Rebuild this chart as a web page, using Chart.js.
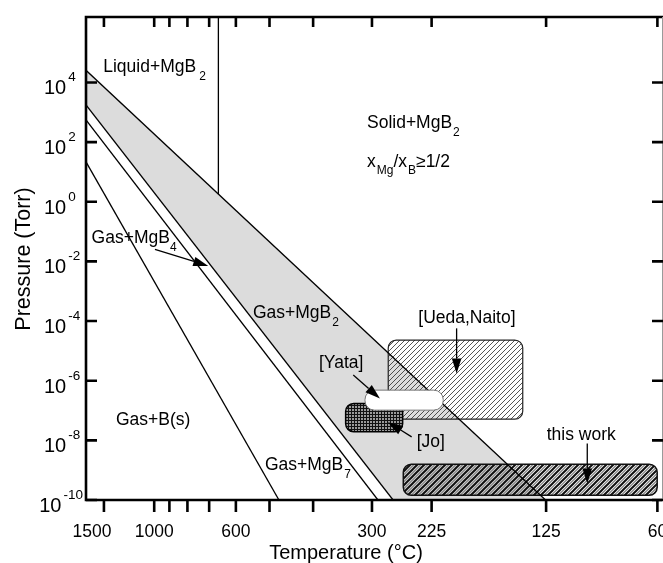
<!DOCTYPE html>
<html>
<head>
<meta charset="utf-8">
<title>MgB2 phase diagram</title>
<script src="https://cdn.jsdelivr.net/npm/chart.js@4.4.1/dist/chart.umd.min.js"></script>
<style>
html,body{margin:0;padding:0;background:#ffffff;overflow:hidden;}
canvas{display:block;}
</style>
</head>
<body>
<canvas id="chart" width="663" height="563" style="width:663px;height:563px"></canvas>
<script>
// ===================== DATA =====================
// x axis is 1000/T(K); ticks given as temperatures in °C
const xTickTempsC  = [1500, 1000, 900, 800, 700, 600, 500, 400, 300, 225, 125, 60];
const xLabelTempsC = [1500, 1000, 600, 300, 225, 125, 60];
const yTickExponents = [-10, -8, -6, -4, -2, 0, 2, 4];

// phase boundary end points: temperature (°C), pressure (Torr)
const upperMgB2TempC = [1789, 125.4];
const upperMgB2Torr  = [2.57e4, 1e-10];
const lowerMgB2TempC = [1789, 271];
const lowerMgB2Torr  = [1.78e3, 1e-10];
const mgB4TempC = [1789, 291.5];
const mgB4Torr  = [5.6e2, 1e-10];
const mgB7TempC = [1789, 475.9];
const mgB7Torr  = [21.8, 1e-10];
const mgMeltTempC = [663, 663];
const mgMeltTorr  = [1.567e6, 1.8];

// growth windows (rounded boxes)
const windowNames  = ['Ueda,Naito', 'Jo', 'Yata', 'this work'];
const windowTHighC = [277.4, 340.8, 310.3, 258.0];
const windowTLowC  = [142.0, 258.8, 212.6, 60.1];
const windowPHigh  = [2.31e-5, 1.73e-7, 4.83e-7, 1.58e-9];
const windowPLow   = [5.14e-8, 1.95e-8, 1.03e-7, 1.44e-10];

// region labels: anchor (°C, Torr) and rich-text parts [text, sizeKey, baselineShift, gap]
const regionLabels = [
  {T: 1509.8, P: 2.29e4,  parts: [['Liquid+MgB','m',0],['2','s',8,3]]},
  {T: 307.3,  P: 301,     parts: [['Solid+MgB','m',0],['2','s',8,1]]},
  {T: 307.3,  P: 14.8,    parts: [['x','m',0],['Mg','s',7,1],['/x','m',0],['B','s',7,1],['\u22651/2','m',0]]},
  {T: 1688.6, P: 0.0406,  parts: [['Gas+MgB','m',0],['4','s',8,0]]},
  {T: 546.2,  P: 1.26e-4, parts: [['Gas+MgB','m',0],['2','s',8,1]]},
  {T: 1348,   P: 3.24e-8, parts: [['Gas+B(s)','m',0]]},
  {T: 512.2,  P: 9.98e-10,parts: [['Gas+MgB','m',0],['7','s',8,1]]},
  {T: 240.0,  P: 8.59e-5, parts: [['[Ueda,Naito]','m',0]]},
  {T: 388.6,  P: 2.65e-6, parts: [['[Yata]','m',0]]},
  {T: 241.9,  P: 5.9e-9,  parts: [['[Jo]','m',0]]},
  {T: 124.6,  P: 1.01e-8, parts: [['this work','m',0]]}
];

// annotation arrows: from (°C, Torr) to tip (°C, Torr)
const arrows = [
  {T1: 994.8, P1: 0.0255,  T2: 703.8, P2: 7.03e-3},
  {T1: 199.1, P1: 5.7e-5,  T2: 199.1, P2: 1.76e-6},
  {T1: 328.4, P1: 1.54e-6, T2: 288.7, P2: 2.55e-7},
  {T1: 247.8, P1: 1.31e-8, T2: 277.8, P2: 4.07e-8},
  {T1: 98.2,  P1: 7.85e-9, T2: 98.2,  P2: 3.56e-10}
];

// ===================== HELPERS =====================
const FONT = '"Liberation Sans", Arial, Helvetica, sans-serif';
const SIZES = {m: 17.5, s: 12};
const inv = t => 1000 / (t + 273);
const toPts = (ts, ps) => ts.map((t, i) => ({x: inv(t), y: ps[i]}));

const bandPoly = toPts(upperMgB2TempC, upperMgB2Torr).concat(toPts(lowerMgB2TempC, lowerMgB2Torr).reverse());

function lineDs(ts, ps) {
  return {data: toPts(ts, ps), borderColor: '#000', borderWidth: 1.3, pointRadius: 0,
          fill: false, tension: 0, order: 1};
}

function makePattern(kind) {
  const c = document.createElement('canvas');
  const g = c.getContext('2d');
  function diag(s, off, w, col) {
    g.strokeStyle = col; g.lineWidth = w; g.beginPath();
    for (let k = -2; k <= 3; k++) {
      const cc = k * s + off;
      g.moveTo(cc + 2, -2); g.lineTo(cc - s - 2, s + 2);
    }
    g.stroke();
  }
  if (kind === 'diag') {
    c.width = c.height = 5;
    diag(5, 0, 0.8, '#2a2a2a');
  } else if (kind === 'bold') {
    c.width = c.height = 7;
    diag(7, 0, 2.0, '#111');
    diag(7, 3.5, 1.4, '#8a8a8a');
  } else if (kind === 'grid') {
    c.width = c.height = 3;
    g.fillStyle = '#9a9a9a'; g.fillRect(0, 0, 3, 3);
    g.fillStyle = '#111'; g.fillRect(0, 0, 3, 1); g.fillRect(0, 0, 1, 3);
  }
  return g.createPattern(c, 'repeat');
}

function roundRect(ctx, x, y, w, h, r) {
  r = Math.min(r, h / 2, w / 2);
  ctx.beginPath();
  ctx.moveTo(x + r, y);
  ctx.lineTo(x + w - r, y); ctx.arcTo(x + w, y, x + w, y + r, r);
  ctx.lineTo(x + w, y + h - r); ctx.arcTo(x + w, y + h, x + w - r, y + h, r);
  ctx.lineTo(x + r, y + h); ctx.arcTo(x, y + h, x, y + h - r, r);
  ctx.lineTo(x, y + r); ctx.arcTo(x, y, x + r, y, r);
  ctx.closePath();
}

const windowStyle = {
  'Ueda,Naito': {fill: 'diag', stroke: '#222', lw: 1.2, r: 8},
  'Jo':         {fill: 'grid', stroke: '#000', lw: 1.5, r: 8},
  'Yata':       {fill: '#ffffff', stroke: '#777', lw: 1, r: 9.5},
  'this work':  {fill: 'bold', stroke: '#111', lw: 1.5, r: 8}
};

function drawWindows(chart, names) {
  const ctx = chart.ctx, xs = chart.scales.x, ys = chart.scales.y;
  ctx.save();
  names.forEach(n => {
    const i = windowNames.indexOf(n);
    const x1 = xs.getPixelForValue(inv(windowTHighC[i]));
    const x2 = xs.getPixelForValue(inv(windowTLowC[i]));
    const y1 = ys.getPixelForValue(windowPHigh[i]);
    const y2 = ys.getPixelForValue(windowPLow[i]);
    const st = windowStyle[n];
    roundRect(ctx, x1, y1, x2 - x1, y2 - y1, st.r);
    ctx.fillStyle = st.fill.startsWith('#') ? st.fill : makePattern(st.fill);
    ctx.fill();
    ctx.strokeStyle = st.stroke; ctx.lineWidth = st.lw; ctx.stroke();
  });
  ctx.restore();
}

function richText(ctx, x, y, parts, align) {
  let w = 0;
  parts.forEach(p => { ctx.font = SIZES[p[1]] + 'px ' + FONT; w += ctx.measureText(p[0]).width + (p[3] || 0); });
  let cx = align === 'right' ? x - w : (align === 'center' ? x - w / 2 : x);
  ctx.textAlign = 'left';
  parts.forEach(p => {
    ctx.font = SIZES[p[1]] + 'px ' + FONT;
    cx += (p[3] || 0);
    ctx.fillText(p[0], cx, y + p[2]);
    cx += ctx.measureText(p[0]).width;
  });
}

function drawArrow(ctx, x1, y1, x2, y2) {
  const len = 15, hw = 4.8;
  const a = Math.atan2(y2 - y1, x2 - x1);
  const bx = x2 - len * Math.cos(a), by = y2 - len * Math.sin(a);
  ctx.beginPath(); ctx.moveTo(x1, y1); ctx.lineTo(bx, by);
  ctx.lineWidth = 1.3; ctx.strokeStyle = '#000'; ctx.stroke();
  ctx.beginPath(); ctx.moveTo(x2, y2);
  ctx.lineTo(bx + hw * Math.sin(a), by - hw * Math.cos(a));
  ctx.lineTo(bx - hw * Math.sin(a), by + hw * Math.cos(a));
  ctx.closePath(); ctx.fillStyle = '#000'; ctx.fill();
}

const phasePlugin = {
  id: 'phasePlugin',
  afterDatasetDraw(chart, args) {
    if (args.index === 0) drawWindows(chart, ['Ueda,Naito', 'Jo', 'this work']);
  },
  afterDatasetsDraw(chart) {
    const ctx = chart.ctx, xs = chart.scales.x, ys = chart.scales.y;
    drawWindows(chart, ['Yata']);
    ctx.save();
    arrows.forEach(a => drawArrow(ctx,
      xs.getPixelForValue(inv(a.T1)), ys.getPixelForValue(a.P1),
      xs.getPixelForValue(inv(a.T2)), ys.getPixelForValue(a.P2)));
    ctx.fillStyle = '#000'; ctx.textBaseline = 'alphabetic';
    regionLabels.forEach(l => richText(ctx, xs.getPixelForValue(inv(l.T)), ys.getPixelForValue(l.P), l.parts, 'left'));
    ctx.restore();
  },
  afterDraw(chart) {
    const ctx = chart.ctx, xs = chart.scales.x, ys = chart.scales.y, ca = chart.chartArea;
    ctx.save();
    // frame
    ctx.strokeStyle = '#000'; ctx.lineWidth = 2.6; ctx.lineCap = 'butt';
    ctx.beginPath();
    ctx.moveTo(ca.left, ca.top - 1.3); ctx.lineTo(ca.left, ca.bottom + 1.3);
    ctx.moveTo(ca.left - 1.3, ca.bottom); ctx.lineTo(ca.right, ca.bottom);
    ctx.moveTo(ca.left - 1.3, ca.top); ctx.lineTo(chart.width, ca.top);
    ctx.stroke();
    ctx.strokeStyle = '#9a9a9a'; ctx.lineWidth = 1;
    ctx.beginPath(); ctx.moveTo(ca.right + 0.5, ca.top); ctx.lineTo(ca.right + 0.5, ca.bottom); ctx.stroke();
    // x ticks: bottom outward, top inward
    ctx.strokeStyle = '#000'; ctx.lineWidth = 2.6;
    ctx.beginPath();
    xs.ticks.forEach(t => {
      const px = xs.getPixelForValue(t.value);
      ctx.moveTo(px, ca.bottom); ctx.lineTo(px, ca.bottom + 12);
      ctx.moveTo(px, ca.top); ctx.lineTo(px, ca.top + 10);
    });
    // y ticks: inward on both sides
    ys.ticks.forEach(t => {
      const py = ys.getPixelForValue(t.value);
      ctx.moveTo(ca.left, py); ctx.lineTo(ca.left + 11, py);
      ctx.moveTo(ca.right + 1, py); ctx.lineTo(ca.right - 10, py);
    });
    ctx.stroke();
    // x tick labels
    ctx.fillStyle = '#000'; ctx.textBaseline = 'alphabetic'; ctx.textAlign = 'center';
    ctx.font = '17.5px ' + FONT;
    xLabelTempsC.forEach(tc => {
      const shift = tc === 1500 ? -12 : 0;
      ctx.fillText(String(tc), xs.getPixelForValue(inv(tc)) + shift, ca.bottom + 37);
    });
    // y tick labels 10^n
    ctx.textAlign = 'left';
    yTickExponents.forEach(e => {
      const py = ys.getPixelForValue(Math.pow(10, e));
      ctx.font = '20px ' + FONT;
      const tw = ctx.measureText('10').width;
      ctx.font = '13.5px ' + FONT;
      const ew = ctx.measureText(String(e)).width;
      let x0 = 44;
      if (x0 + tw + 2 + ew > ca.left - 3) x0 = ca.left - 3 - ew - 2 - tw;
      ctx.font = '20px ' + FONT;
      ctx.fillText('10', x0, py + 12);
      ctx.font = '13.5px ' + FONT;
      ctx.fillText(String(e), x0 + tw + 2, py - 1);
    });
    // axis titles
    ctx.font = '20px ' + FONT; ctx.textAlign = 'center';
    ctx.fillText('Temperature (\u00B0C)', 346, 559);
    ctx.font = '21.5px ' + FONT;
    ctx.translate(30, 259); ctx.rotate(-Math.PI / 2);
    ctx.fillText('Pressure (Torr)', 0, 0);
    ctx.restore();
  }
};

Chart.defaults.font.family = FONT;

new Chart(document.getElementById('chart'), {
  type: 'line',
  data: {
    datasets: [
      {data: bandPoly, backgroundColor: '#dcdcdc', borderWidth: 0, borderColor: 'rgba(0,0,0,0)',
       pointRadius: 0, fill: 'shape', tension: 0, order: 10},
      lineDs(upperMgB2TempC, upperMgB2Torr),
      lineDs(lowerMgB2TempC, lowerMgB2Torr),
      lineDs(mgB4TempC, mgB4Torr),
      lineDs(mgB7TempC, mgB7Torr),
      lineDs(mgMeltTempC, mgMeltTorr)
    ]
  },
  options: {
    responsive: false,
    animation: false,
    events: [],
    layout: {padding: {top: 17, right: 1, left: 0, bottom: 0}, autoPadding: false},
    plugins: {legend: {display: false}, tooltip: {enabled: false}},
    scales: {
      x: {
        type: 'linear', min: 0.485, max: 3.0233,
        afterBuildTicks: s => { s.ticks = xTickTempsC.map(t => ({value: inv(t)})); },
        afterFit: s => { s.height = 63; },
        ticks: {display: false}, grid: {display: false}, border: {display: false}
      },
      y: {
        type: 'logarithmic', min: 1e-10, max: 1.567e6,
        afterBuildTicks: s => { s.ticks = yTickExponents.map(e => ({value: Math.pow(10, e)})); },
        afterFit: s => { s.width = 86; },
        ticks: {display: false}, grid: {display: false}, border: {display: false}
      }
    }
  },
  plugins: [phasePlugin]
});
</script>
</body>
</html>
